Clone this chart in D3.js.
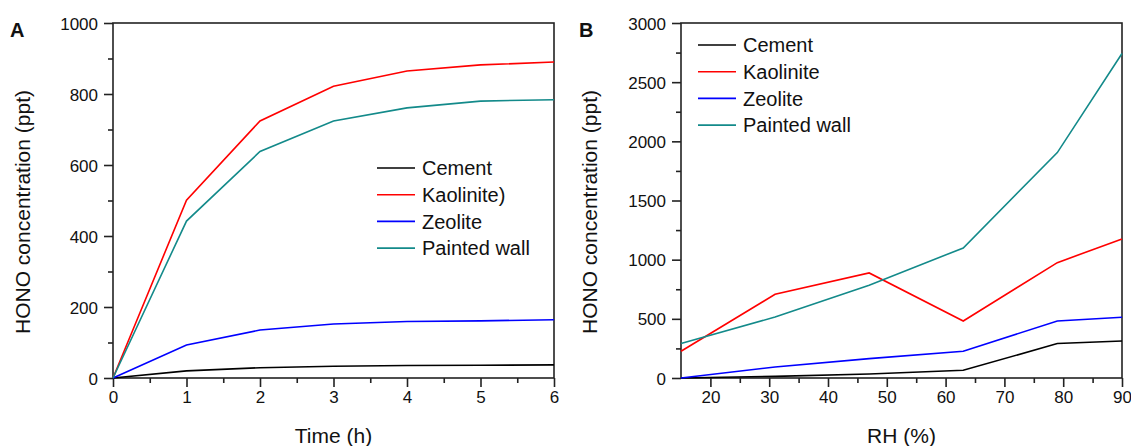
<!DOCTYPE html>
<meta charset="UTF-8">
<style>
    body { margin: 0; background: #fff; }
    svg text { font-family: Arial, "Liberation Sans", sans-serif; fill: #111; }
    .line { fill: none; stroke-width: 1.6px; }
    .axis path, .axis line { stroke: #222; stroke-width: 1.6px; }
    .frame { fill: none; stroke: #222; stroke-width: 1.6px; }
</style>
<body>
<div id="chart"></div>
<script src="https://d3js.org/d3.v7.min.js"></script>
<script>

// panel A data (time series)
var timeH = [0, 1, 2, 3, 4, 5, 6];
var cementA = [0, 20, 29, 33, 35, 36, 37];
var kaoliniteA = [0, 501, 724, 822, 865, 882, 890];
var zeoliteA = [0, 93, 135, 152, 159, 161, 164];
var paintedA = [0, 442, 638, 724, 761, 780, 784];

// panel B data (relative humidity)
var rh = [15, 31, 47, 63, 79, 90];
var cementB = [0, 14, 34, 65, 291, 313];
var kaoliniteB = [226, 707, 888, 482, 975, 1175];
var zeoliteB = [0, 93, 164, 226, 482, 513];
var paintedB = [291, 515, 784, 1099, 1905, 2742];

var namesA = ["Cement", "Kaolinite)", "Zeolite", "Painted wall"];
var namesB = ["Cement", "Kaolinite", "Zeolite", "Painted wall"];
var colors = ["#000000", "#ff0000", "#0000ff", "#138a8a"];

var svg = d3.select("#chart").append("svg")
    .attr("width", 1131)
    .attr("height", 446);

var fmt = d3.format("d");

function panel(opt) {
    var x = d3.scaleLinear().domain(opt.xDomain).range([opt.left, opt.right]);
    var y = d3.scaleLinear().domain(opt.yDomain).range([opt.bottom, opt.top]);
    var g = svg.append("g");

    // minor ticks
    g.append("g")
        .attr("class", "axis")
        .attr("transform", "translate(0," + opt.bottom + ")")
        .call(d3.axisBottom(x).tickValues(opt.xMinor).tickSize(5).tickFormat(""))
        .select(".domain").remove();
    g.append("g")
        .attr("class", "axis")
        .attr("transform", "translate(" + opt.left + ",0)")
        .call(d3.axisLeft(y).tickValues(opt.yMinor).tickSize(5).tickFormat(""))
        .select(".domain").remove();

    // major ticks
    var xa = g.append("g")
        .attr("class", "axis")
        .attr("transform", "translate(0," + opt.bottom + ")")
        .call(d3.axisBottom(x).tickValues(opt.xTicks).tickFormat(fmt)
            .tickSize(9).tickSizeOuter(0).tickPadding(4));
    xa.selectAll("text").style("font-size", "17px");
    xa.select(".domain").remove();

    var ya = g.append("g")
        .attr("class", "axis")
        .attr("transform", "translate(" + opt.left + ",0)")
        .call(d3.axisLeft(y).tickValues(opt.yTicks).tickFormat(fmt)
            .tickSize(9).tickSizeOuter(0).tickPadding(6));
    ya.selectAll("text").style("font-size", "17px").attr("dy", "0.36em");
    ya.select(".domain").remove();

    // box
    g.append("rect")
        .attr("class", "frame")
        .attr("x", opt.left)
        .attr("y", opt.top)
        .attr("width", opt.right - opt.left)
        .attr("height", opt.bottom - opt.top);

    // lines
    var line = d3.line()
        .x(function(d) { return x(d[0]); })
        .y(function(d) { return y(d[1]); });
    opt.series.forEach(function(s, i) {
        g.append("path")
            .datum(d3.zip(opt.xs, s))
            .attr("class", "line")
            .style("stroke", colors[i])
            .attr("d", line);
    });

    // axis titles
    g.append("text")
        .attr("x", (opt.left + opt.right) / 2)
        .attr("y", 443)
        .attr("text-anchor", "middle")
        .style("font-size", "21px")
        .text(opt.xLabel);
    g.append("text")
        .attr("transform", "translate(" + opt.yLabelX + ",212) rotate(-90)")
        .attr("text-anchor", "middle")
        .style("font-size", "21px")
        .text("HONO concentration (ppt)");

    // panel letter
    g.append("text")
        .attr("x", opt.letterX)
        .attr("y", 37)
        .style("font-size", "20px")
        .style("font-weight", "bold")
        .text(opt.letter);

    // legend
    var lg = g.append("g");
    opt.names.forEach(function(n, i) {
        var yy = opt.legY + i * 26.7;
        lg.append("line")
            .attr("x1", opt.legX).attr("x2", opt.legX + 38)
            .attr("y1", yy).attr("y2", yy)
            .style("stroke", colors[i])
            .style("stroke-width", "1.6px");
        lg.append("text")
            .attr("x", opt.legX + 45)
            .attr("y", yy)
            .attr("dy", "0.36em")
            .style("font-size", "20px")
            .text(n);
    });
}

panel({
    left: 113, right: 554, top: 23, bottom: 378,
    xDomain: [0, 6], yDomain: [0, 1000],
    xTicks: d3.range(0, 7, 1), xMinor: d3.range(0.5, 6, 1),
    yTicks: d3.range(0, 1001, 200), yMinor: d3.range(100, 1000, 200),
    xs: timeH, series: [cementA, kaoliniteA, zeoliteA, paintedA],
    names: namesA, legX: 377, legY: 168,
    xLabel: "Time (h)", yLabelX: 30, letter: "A", letterX: 10
});

panel({
    left: 681, right: 1122, top: 23, bottom: 378,
    xDomain: [15, 90], yDomain: [0, 3000],
    xTicks: d3.range(20, 91, 10), xMinor: d3.range(25, 90, 10),
    yTicks: d3.range(0, 3001, 500), yMinor: d3.range(250, 3000, 500),
    xs: rh, series: [cementB, kaoliniteB, zeoliteB, paintedB],
    names: namesB, legX: 698, legY: 45,
    xLabel: "RH (%)", yLabelX: 597, letter: "B", letterX: 579
});

</script>
</body>
